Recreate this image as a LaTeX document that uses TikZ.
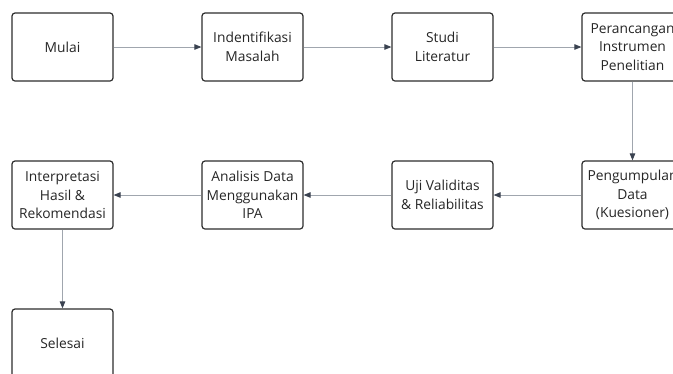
\documentclass[tikz,border=0pt]{standalone}
\usepackage{fontspec}
\setmainfont{Open Sans}
\usetikzlibrary{arrows.meta}
\definecolor{boxline}{HTML}{2E2E2E}
\definecolor{conn}{HTML}{A0A6AE}
\definecolor{tipc}{HTML}{3A4250}
\definecolor{txt}{HTML}{262626}
\begin{document}
\begin{tikzpicture}[x=1pt,y=1pt,
  stepbox/.style={draw=boxline, line width=1.2pt, rounded corners=3pt,
    minimum width=101pt, minimum height=68pt, align=center, inner sep=0pt,
    text=txt, font=\fontsize{13.8}{18.5}\selectfont},
  conn/.style={draw=conn, line width=0.9pt, -{Triangle[length=7pt,width=5.5pt,fill=tipc,color=tipc]}}]
\useasboundingbox (0,0) rectangle (673,-373);
\fill[white] (0,0) rectangle (673,-373);
\node[stepbox] (a) at (62.5,-47) {Mulai};
\node[stepbox] (b) at (252.5,-47) {Indentifikasi\\Masalah};
\node[stepbox] (c) at (442.5,-47) {Studi\\Literatur};
\node[stepbox] (d) at (632.5,-47) {Perancangan\\Instrumen\\Penelitian};
\node[stepbox] (e) at (632.5,-195) {Pengumpulan\\Data\\(Kuesioner)};
\node[stepbox] (f) at (442.5,-195) {Uji Validitas\\\& Reliabilitas};
\node[stepbox] (g) at (252.5,-195) {Analisis Data\\Menggunakan\\IPA};
\node[stepbox] (h) at (62.5,-195) {Interpretasi\\Hasil \&\\Rekomendasi};
\node[stepbox] (i) at (62.5,-343) {Selesai};
\draw[conn] (a) -- (b);
\draw[conn] (b) -- (c);
\draw[conn] (c) -- (d);
\draw[conn] (d) -- (e);
\draw[conn] (e) -- (f);
\draw[conn] (f) -- (g);
\draw[conn] (g) -- (h);
\draw[conn] (h) -- (i);
\end{tikzpicture}
\end{document}
